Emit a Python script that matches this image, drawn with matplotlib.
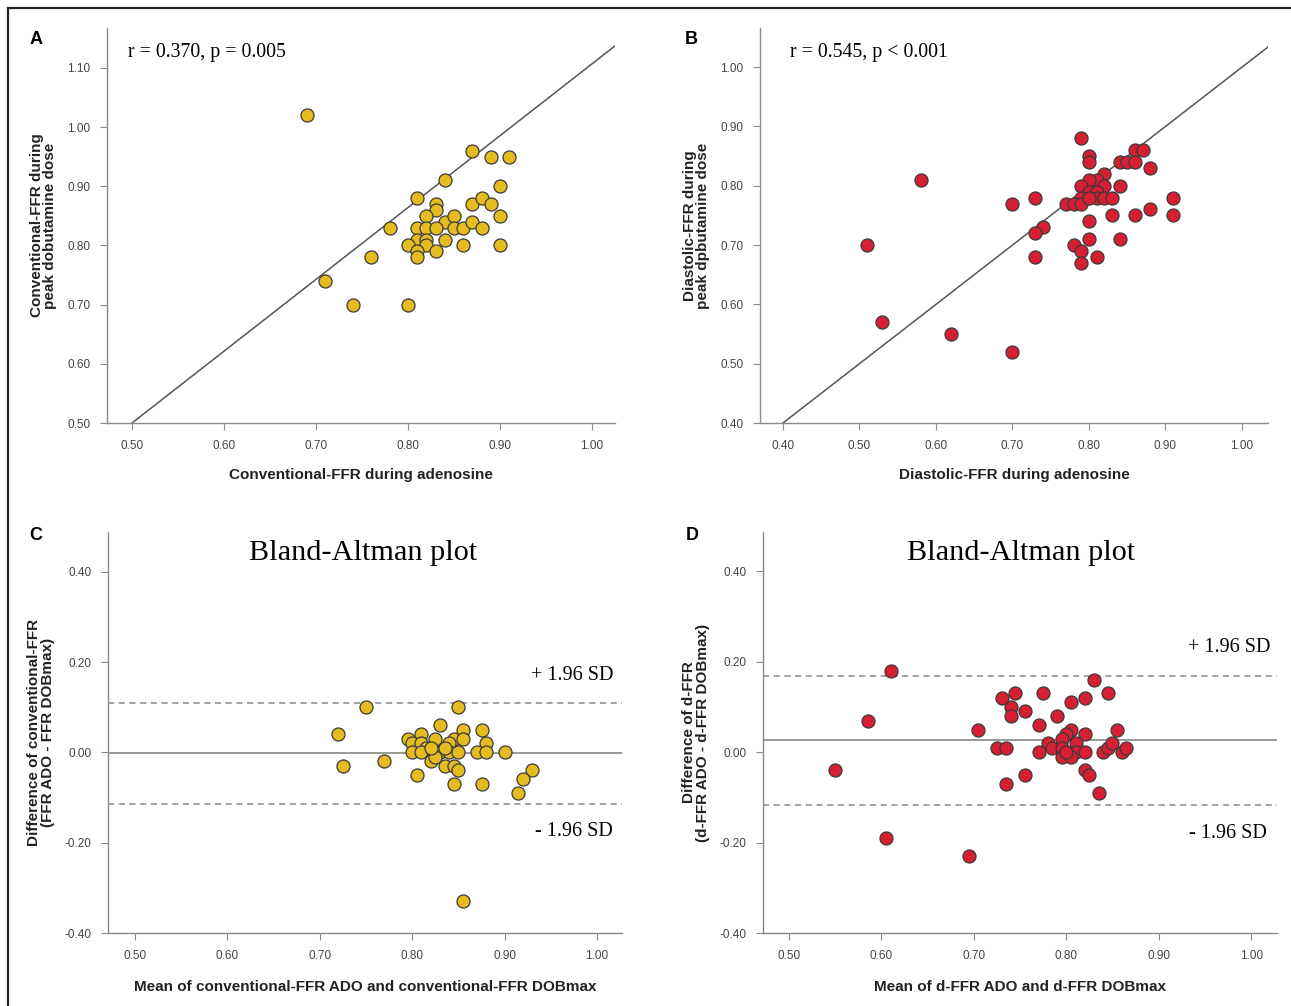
import matplotlib
matplotlib.use('Agg')
import matplotlib.pyplot as plt
from matplotlib.patches import Rectangle

plt.rcParams['font.family'] = ['Liberation Sans', 'DejaVu Sans']

# panel A: conventional FFR, adenosine vs peak dobutamine
ffr_ado = [0.69, 0.87, 0.89, 0.91, 0.84, 0.90, 0.81, 0.83, 0.83, 0.87, 0.88, 0.89,
           0.90, 0.82, 0.84, 0.85, 0.85, 0.86, 0.87, 0.88, 0.78, 0.81, 0.82, 0.83,
           0.81, 0.82, 0.82, 0.84, 0.80, 0.81, 0.81, 0.83, 0.86, 0.90, 0.76, 0.71,
           0.74, 0.80]
ffr_dob = [1.02, 0.96, 0.95, 0.95, 0.91, 0.90, 0.88, 0.87, 0.86, 0.87, 0.88, 0.87,
           0.85, 0.85, 0.84, 0.85, 0.83, 0.83, 0.84, 0.83, 0.83, 0.83, 0.83, 0.83,
           0.81, 0.81, 0.80, 0.81, 0.80, 0.79, 0.78, 0.79, 0.80, 0.80, 0.78, 0.74,
           0.70, 0.70]
ref_a = (1.214, -0.107)  # slope, intercept of reference line

# panel B: diastolic FFR
dffr_ado = [0.51, 0.53, 0.58, 0.62, 0.70, 0.70, 0.73, 0.74, 0.73, 0.73, 0.79, 0.80,
            0.80, 0.86, 0.87, 0.84, 0.85, 0.86, 0.88, 0.82, 0.81, 0.80, 0.79, 0.82,
            0.84, 0.80, 0.81, 0.79, 0.81, 0.82, 0.83, 0.77, 0.78, 0.79, 0.80, 0.91,
            0.91, 0.88, 0.86, 0.83, 0.80, 0.80, 0.84, 0.78, 0.79, 0.79, 0.81]
dffr_dob = [0.70, 0.57, 0.81, 0.55, 0.52, 0.77, 0.78, 0.73, 0.72, 0.68, 0.88, 0.85,
            0.84, 0.86, 0.86, 0.84, 0.84, 0.84, 0.83, 0.82, 0.81, 0.81, 0.80, 0.80,
            0.80, 0.79, 0.79, 0.78, 0.78, 0.78, 0.78, 0.77, 0.77, 0.77, 0.78, 0.78,
            0.75, 0.76, 0.75, 0.75, 0.74, 0.71, 0.71, 0.70, 0.69, 0.67, 0.68]
ref_b = (1.0, 0.0)

# panel C: Bland-Altman conventional FFR
ba_c_mean = [0.72, 0.725, 0.75, 0.77, 0.85, 0.83, 0.795, 0.81, 0.825, 0.845, 0.855,
             0.855, 0.875, 0.88, 0.84, 0.80, 0.81, 0.815, 0.80, 0.81, 0.83, 0.84,
             0.85, 0.87, 0.88, 0.90, 0.82, 0.825, 0.835, 0.845, 0.85, 0.805, 0.845,
             0.875, 0.93, 0.92, 0.915, 0.855, 0.82, 0.835]
ba_c_diff = [0.04, -0.03, 0.10, -0.02, 0.10, 0.06, 0.03, 0.04, 0.03, 0.03, 0.05,
             0.03, 0.05, 0.02, 0.02, 0.02, 0.02, 0.01, 0.00, 0.00, 0.00, 0.00,
             0.00, 0.00, 0.00, 0.00, -0.02, -0.01, -0.03, -0.03, -0.04, -0.05, -0.07,
             -0.07, -0.04, -0.06, -0.09, -0.33, 0.01, 0.01]
limits_c = (-0.001, 0.110, -0.114)  # mean, +1.96 SD, -1.96 SD

# panel D: Bland-Altman diastolic FFR
ba_d_mean = [0.55, 0.585, 0.61, 0.605, 0.695, 0.705, 0.725, 0.735, 0.73, 0.745,
             0.74, 0.74, 0.755, 0.735, 0.755, 0.77, 0.775, 0.79, 0.805, 0.82, 0.83,
             0.845, 0.855, 0.82, 0.805, 0.80, 0.795, 0.78, 0.77, 0.785, 0.795, 0.81,
             0.81, 0.82, 0.795, 0.805, 0.80, 0.82, 0.825, 0.835, 0.84, 0.845, 0.85,
             0.86, 0.865]
ba_d_diff = [-0.04, 0.07, 0.18, -0.19, -0.23, 0.05, 0.01, 0.01, 0.12, 0.13, 0.10,
             0.08, 0.09, -0.07, -0.05, 0.06, 0.13, 0.08, 0.11, 0.12, 0.16, 0.13,
             0.05, 0.04, 0.05, 0.04, 0.03, 0.02, 0.00, 0.01, 0.01, 0.02, 0.00, 0.00,
             -0.01, -0.01, 0.00, -0.04, -0.05, -0.09, 0.00, 0.01, 0.02, 0.00, 0.01]
limits_d = (0.026, 0.168, -0.117)

yellow = '#E5BC1F'
red = '#D61F33'
spine_col = '#8a8a8a'
tick_col = '#444444'

W, H = 1291, 1006
fig = plt.figure(figsize=(W / 100, H / 100), dpi=100)


def px_axes(left, top, right, bottom):
    return fig.add_axes([left / W, 1 - bottom / H, (right - left) / W, (bottom - top) / H])


def style(ax, xticks, yticks):
    for side in ('top', 'right'):
        ax.spines[side].set_visible(False)
    for side in ('left', 'bottom'):
        ax.spines[side].set_color(spine_col)
        ax.spines[side].set_linewidth(1.0)
    ax.set_xticks(xticks)
    ax.set_yticks(yticks)
    ax.set_xticklabels([f'{t:.2f}' for t in xticks])
    ax.set_yticklabels([f'{t:.2f}' for t in yticks])
    ax.tick_params(direction='out', length=5, width=0.8, color=spine_col,
                   labelsize=8.5, labelcolor=tick_col, pad=7)


def scatter(ax, x, y, color):
    ax.scatter(x, y, s=88, facecolor=color, edgecolor='#3a3a3a', linewidth=0.9, zorder=3)


label_font = dict(fontsize=11, fontweight='bold', color='#222222')
serif = ['Liberation Serif', 'DejaVu Serif']

# A
ax = px_axes(107, 28, 615, 423)
ax.set_xlim(0.4728, 1.025)
ax.set_ylim(0.50, 1.1676)
style(ax, [0.5, 0.6, 0.7, 0.8, 0.9, 1.0], [0.5, 0.6, 0.7, 0.8, 0.9, 1.0, 1.1])
xs = [0.5, 1.03]
ax.plot(xs, [ref_a[0] * v + ref_a[1] for v in xs], color='#555555', lw=1.1, zorder=2)
scatter(ax, ffr_ado, ffr_dob, yellow)
ax.set_xlabel('Conventional-FFR during adenosine', labelpad=12, **label_font)
ax.set_ylabel('Conventional-FFR during\npeak dobutamine dose', labelpad=7, linespacing=0.95, **label_font)
ax.text(128 / W, 1 - 53 / H, 'r = 0.370, p = 0.005', transform=fig.transFigure,
        family=serif, fontsize=14.3, va='center', ha='left')

# B
ax = px_axes(760, 28, 1268, 423)
ax.set_xlim(0.370, 1.034)
ax.set_ylim(0.40, 1.066)
style(ax, [0.4, 0.5, 0.6, 0.7, 0.8, 0.9, 1.0], [0.4, 0.5, 0.6, 0.7, 0.8, 0.9, 1.0])
xs = [0.4, 1.034]
ax.plot(xs, [ref_b[0] * v + ref_b[1] for v in xs], color='#555555', lw=1.1, zorder=2)
scatter(ax, dffr_ado, dffr_dob, red)
ax.set_xlabel('Diastolic-FFR during adenosine', labelpad=12, **label_font)
ax.set_ylabel('Diastolic-FFR during\npeak dpbutamine dose', labelpad=7, linespacing=0.95, **label_font)
ax.text(790 / W, 1 - 53 / H, 'r = 0.545, p < 0.001', transform=fig.transFigure,
        family=serif, fontsize=14.3, va='center', ha='left')


def bland_altman(ax, means, diffs, limits, color):
    mean, upper, lower = limits
    ax.axhline(mean, color='#999999', lw=1.4, zorder=1)
    ax.axhline(upper, color='#888888', lw=1.1, ls=(0, (4, 3)), zorder=1)
    ax.axhline(lower, color='#888888', lw=1.1, ls=(0, (4, 3)), zorder=1)
    scatter(ax, means, diffs, color)


# C
ax = px_axes(108, 532, 622, 933)
ax.set_xlim(0.4708, 1.027)
ax.set_ylim(-0.40, 0.488)
style(ax, [0.5, 0.6, 0.7, 0.8, 0.9, 1.0], [-0.4, -0.2, 0.0, 0.2, 0.4])
bland_altman(ax, ba_c_mean, ba_c_diff, limits_c, yellow)
ax.set_xlabel('Mean of conventional-FFR ADO and conventional-FFR DOBmax', labelpad=13, **label_font)
ax.set_ylabel('Difference of conventional-FFR\n(FFR ADO - FFR DOBmax)', labelpad=7, linespacing=0.95, **label_font)
fig.text(363 / W, 1 - 553 / H, 'Bland-Altman plot', family=serif, fontsize=21.8, ha='center', va='center')
fig.text(613 / W, 1 - 676 / H, '+ 1.96 SD', family=serif, fontsize=14.5, ha='right', va='center')
fig.text(613 / W, 1 - 832 / H, '- 1.96 SD', family=serif, fontsize=14.5, ha='right', va='center')

# D
ax = px_axes(763, 532, 1277, 933)
ax.set_xlim(0.4719, 1.028)
ax.set_ylim(-0.40, 0.487)
style(ax, [0.5, 0.6, 0.7, 0.8, 0.9, 1.0], [-0.4, -0.2, 0.0, 0.2, 0.4])
bland_altman(ax, ba_d_mean, ba_d_diff, limits_d, red)
ax.set_xlabel('Mean of d-FFR ADO and d-FFR DOBmax', labelpad=13, **label_font)
ax.set_ylabel('Difference of d-FFR\n(d-FFR ADO - d-FFR DOBmax)', labelpad=7, linespacing=0.95, **label_font)
fig.text(1021 / W, 1 - 553 / H, 'Bland-Altman plot', family=serif, fontsize=21.8, ha='center', va='center')
fig.text(1270 / W, 1 - 647 / H, '+ 1.96 SD', family=serif, fontsize=14.5, ha='right', va='center')
fig.text(1267 / W, 1 - 834 / H, '- 1.96 SD', family=serif, fontsize=14.5, ha='right', va='center')

# panel letters
for letter, x, y in [('A', 36, 40), ('B', 691, 40), ('C', 36, 535), ('D', 692, 535)]:
    fig.text(x / W, 1 - y / H, letter, fontsize=13, fontweight='bold', ha='center', va='center')

# outer frame
fig.add_artist(Rectangle((8 / W, -0.01), 1.0, 1 - 8 / H + 0.01, transform=fig.transFigure,
                         fill=False, edgecolor='#222222', lw=1.6))

fig.savefig('out.png', dpi=100)
